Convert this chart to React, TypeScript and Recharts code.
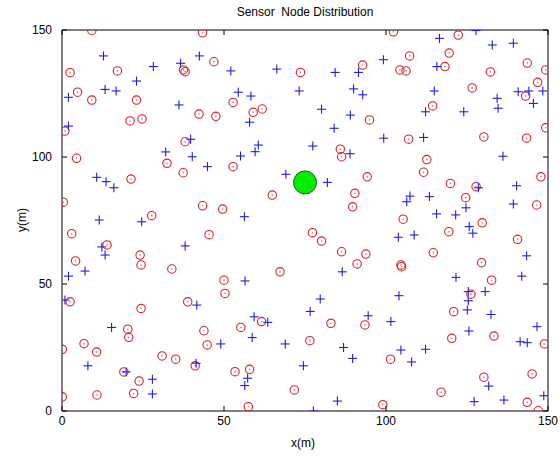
import React from 'react';
import { ScatterChart, Scatter, XAxis, YAxis } from 'recharts';

const xTicks = [0, 50, 100, 150];
const yTicks = [0, 50, 100, 150];

const circleNodes: [number, number][] = [
  [9.2, 149.8], [43.4, 148.9], [46.9, 137.5], [2.5, 133.2], [17.1, 133.9], [37.5, 134.3], [38, 133.6],
  [4.8, 125.5], [9.2, 122.4], [23, 122.4], [42.3, 116.9], [47.5, 116], [21, 114.2], [24.7, 115],
  [0.9, 110.2], [38, 106], [73.6, 133.3], [92.8, 136.2], [52.8, 121.5], [59, 117.6], [61.8, 118.9],
  [94.9, 114.6], [85.9, 103.1], [102.3, 149.3], [122.3, 148], [107.3, 139.8], [119.5, 140.9],
  [104.3, 134.3], [106.2, 133.9], [118.2, 135.6], [132.2, 133.5], [143.6, 137], [149.3, 134.3],
  [146.8, 129.4], [126.6, 127.2], [143.1, 124], [114.4, 120.1], [149.3, 111.5], [107, 107],
  [130.2, 107.9], [143.4, 107.4], [112.6, 99], [4.5, 99.5], [32.4, 97.5], [37.4, 93.8], [21.3, 91.3],
  [0.4, 82.2], [43.4, 80.8], [49.6, 79.5], [27.7, 76.9], [3, 69.8], [45.4, 69.4], [13.9, 65.4],
  [24.1, 61.4], [24.4, 57.5], [4.2, 59.1], [33.9, 55.9], [86.3, 100.1], [52.8, 96.2], [94.2, 92.2],
  [64.9, 85], [90.4, 85.7], [89.7, 80.4], [77.3, 70.2], [80.1, 66.9], [86.3, 62.7], [93.8, 61.8],
  [91.1, 57.9], [67.3, 54.8], [111.6, 94], [147.8, 92.2], [119.9, 89.6], [127.8, 88.3], [124.6, 84],
  [146.5, 81.1], [105.3, 75.5], [129.7, 74.1], [119.4, 70.6], [140.6, 67.6], [114.6, 62.3],
  [104.6, 57.5], [104.8, 56.8], [129.5, 58.4], [132.6, 51.5], [50, 51.5], [50.3, 46.3], [2.5, 43],
  [24.4, 40.4], [38.8, 43], [20.3, 32.2], [20.6, 29], [43.8, 31.6], [44.8, 26], [0.1, 24.3],
  [6.8, 26.5], [10.7, 23.2], [30.9, 21.7], [35.1, 20.4], [41.1, 17.8], [19.1, 15.4], [23.8, 11.8],
  [0.1, 5.6], [10.8, 6.3], [22.1, 6.9], [61.6, 35.2], [55.2, 32.9], [83, 34.5], [93.5, 33.9],
  [76.5, 27.7], [53.4, 15.5], [57.9, 16.4], [71.7, 8.3], [57.5, 1.7], [99, 2.5], [126.2, 46],
  [120.9, 39.1], [120.3, 28.6], [133.3, 29.5], [148.9, 26.4], [101.4, 20.4], [130.2, 13.3],
  [145.1, 14.6], [117, 7.4], [143.6, 3.4], [147, 0.1],
];

const plusNodes: [number, number][] = [
  [12.8, 139.8], [28.2, 135.6], [36.6, 136.9], [42.4, 139.8], [23, 129.9], [2, 123.5], [13.3, 126.6],
  [16.7, 126], [36.1, 120.5], [2, 112.2], [39.7, 107], [32, 102], [40.2, 100.1], [52.1, 133.9],
  [66.3, 134.6], [84.3, 133.3], [91.5, 133.3], [99.2, 138.3], [54.4, 125.5], [58.3, 124], [73.2, 126],
  [90, 126.8], [92.8, 124.5], [80.1, 118.8], [89, 116.5], [57.9, 113.7], [84, 111.3], [60.6, 104.7],
  [59.6, 102.1], [77.4, 104.3], [88.9, 101.3], [55.1, 100.4], [99.3, 107.4], [116.5, 146.7],
  [127.8, 149.8], [132.8, 144.1], [139.3, 144.8], [115.7, 135.6], [114.9, 126], [140.8, 125.7],
  [144.1, 126], [148.4, 126], [145.5, 121.1], [134.3, 123.1], [134.6, 119.2], [112.2, 117.8],
  [124, 117.8], [111.6, 107.7], [136.1, 100.3], [44.9, 96.2], [10.7, 92], [13.6, 90.3], [16, 87.9],
  [11.5, 75.2], [24.6, 74.5], [12.3, 64.6], [13.3, 61.4], [38, 65], [7.1, 55.1], [2, 53.1],
  [69.1, 93.2], [74.5, 87], [81.9, 90], [56.3, 76.5], [86.5, 54.8], [56.5, 51.2], [128.5, 87.9],
  [140.3, 88.7], [107.4, 84.6], [106.4, 82.4], [113.4, 84.4], [139.3, 81.5], [124.7, 80],
  [115.6, 77.6], [121.5, 77.2], [125.7, 72.6], [126.8, 70], [103.8, 68.4], [108.7, 69.3],
  [143.4, 61.1], [121.6, 52.6], [141.9, 53.1], [0.9, 43.7], [41.6, 41.7], [15.3, 32.9], [49, 26.4],
  [8, 17.8], [41.4, 18.8], [19.8, 15.4], [27.9, 12.5], [27.9, 6.7], [79.7, 44.1], [76.6, 39.2],
  [59.3, 37.1], [63.5, 34.9], [94.5, 37.5], [58.7, 28.9], [68.9, 26.4], [86.9, 25], [89.7, 20.7],
  [74.5, 17.8], [57.3, 12.9], [56.4, 10], [85, 3.9], [77.6, 0], [104, 45.4], [125.4, 47],
  [130.6, 47], [125.4, 43.4], [125.1, 39.8], [132.4, 38], [101.5, 35.2], [146.6, 33.2],
  [125.6, 31.5], [141.4, 27.3], [143.6, 26.9], [104.6, 24], [112.2, 24.3], [107.9, 19.3],
  [131.7, 9.8], [148.7, 6], [127.2, 3.7], [136.4, 4.3],
];

const sinkNode: [number, number][] = [[75, 90]];

const toData = (arr: [number, number][]) => arr.map(([x, y]) => ({ x, y }));

const CircleShape = (props: any) => {
  const { cx, cy } = props;
  if (cx == null || cy == null) return null;
  return (
    <g>
      <circle cx={cx} cy={cy} r={4.2} fill="none" stroke="#e01e28" strokeWidth={1.1} />
      <circle cx={cx} cy={cy} r={0.8} fill="#888" />
    </g>
  );
};

const PlusShape = (props: any) => {
  const { cx, cy } = props;
  if (cx == null || cy == null) return null;
  const s = 4.5;
  return (
    <g stroke="#1e1ee0" strokeWidth={1.1}>
      <line x1={cx - s} y1={cy} x2={cx + s} y2={cy} />
      <line x1={cx} y1={cy - s} x2={cx} y2={cy + s} />
    </g>
  );
};

const SinkShape = (props: any) => {
  const { cx, cy } = props;
  if (cx == null || cy == null) return null;
  return <circle cx={cx} cy={cy} r={11.5} fill="#00ee00" stroke="#1a5a40" strokeWidth={1} />;
};

const font = '"Liberation Sans", Arial, Helvetica, sans-serif';
const tickStyle = { fontSize: 12, fill: '#000', fontFamily: font };

const PLOT_W = 486;
const PLOT_H = 381;
const T = 5;

// top axis draws inward tick marks on both the top and bottom edges of the box
const TopTick = (p: any) => (
  <g stroke="#000" strokeWidth={1}>
    <line x1={p.x} y1={p.y} x2={p.x} y2={p.y + T} />
    <line x1={p.x} y1={p.y + PLOT_H} x2={p.x} y2={p.y + PLOT_H - T} />
  </g>
);
// right axis draws inward tick marks on both the right and left edges of the box
const RightTick = (p: any) => (
  <g stroke="#000" strokeWidth={1}>
    <line x1={p.x} y1={p.y} x2={p.x - T} y2={p.y} />
    <line x1={p.x - PLOT_W} y1={p.y} x2={p.x - PLOT_W + T} y2={p.y} />
  </g>
);

const axisLine = { stroke: '#000', strokeWidth: 1 };

export default function App() {
  return (
    <div style={{ position: 'absolute', left: 0, top: 0, width: 560, height: 457, background: '#fff', fontFamily: font }}>
      <ScatterChart width={560} height={457} margin={{ top: 29, right: 11, bottom: 16, left: 22 }}>
        <XAxis xAxisId="b" type="number" dataKey="x" domain={[0, 150]} ticks={xTicks} allowDataOverflow orientation="bottom" height={30} tickSize={0} tickMargin={5} tickLine={false} axisLine={axisLine} tick={tickStyle} interval={0} />
        <XAxis xAxisId="t" type="number" dataKey="x" domain={[0, 150]} ticks={xTicks} allowDataOverflow orientation="top" height={1} tickSize={0} tickMargin={0} tickLine={false} axisLine={axisLine} tick={TopTick} interval={0} />
        <YAxis yAxisId="l" type="number" dataKey="y" domain={[0, 150]} ticks={yTicks} allowDataOverflow orientation="left" width={40} tickSize={0} tickMargin={10} tickLine={false} axisLine={axisLine} tick={tickStyle} interval={0} />
        <YAxis yAxisId="r" type="number" dataKey="y" domain={[0, 150]} ticks={yTicks} allowDataOverflow orientation="right" width={1} tickSize={0} tickMargin={0} tickLine={false} axisLine={axisLine} tick={RightTick} interval={0} />
        <Scatter xAxisId="b" yAxisId="l" data={toData(circleNodes)} shape={CircleShape} isAnimationActive={false} />
        <Scatter xAxisId="b" yAxisId="l" data={toData(plusNodes)} shape={PlusShape} isAnimationActive={false} />
        <Scatter xAxisId="t" yAxisId="r" data={toData(sinkNode)} shape={SinkShape} isAnimationActive={false} />
      </ScatterChart>
      <div style={{ position: 'absolute', left: 305, top: 5, transform: 'translateX(-50%)', fontSize: 12, lineHeight: '14px', whiteSpace: 'pre', color: '#000' }}>
        Sensor  Node Distribution
      </div>
      <div style={{ position: 'absolute', left: 303, top: 436, transform: 'translateX(-50%)', fontSize: 12, lineHeight: '14px', color: '#000' }}>
        x(m)
      </div>
      <div style={{ position: 'absolute', left: 22, top: 220, transform: 'translate(-50%, -50%) rotate(-90deg)', fontSize: 12, lineHeight: '14px', color: '#000', whiteSpace: 'pre' }}>
        y(m)
      </div>
    </div>
  );
}
